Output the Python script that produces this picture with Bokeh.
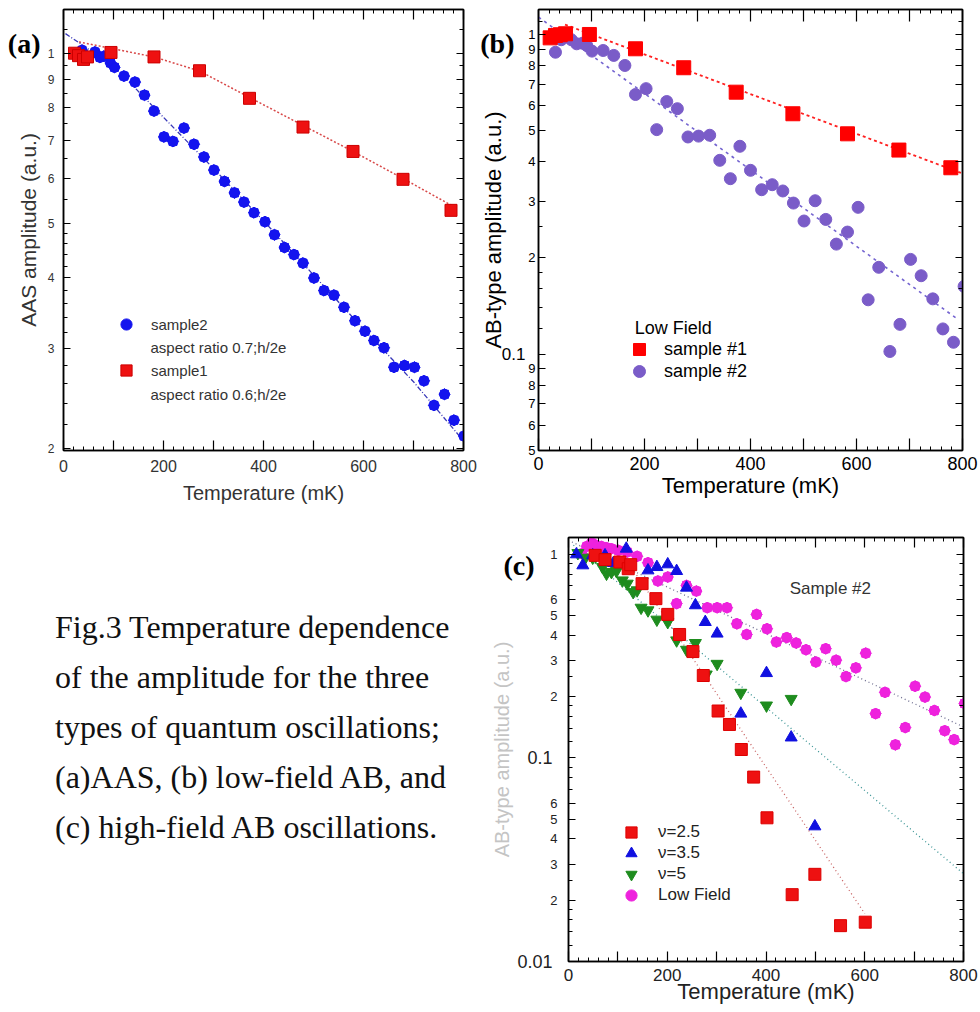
import numpy as np
from bokeh.plotting import figure
from bokeh.models import (Range1d, FixedTicker, CustomJSTickFormatter, LinearAxis, LogAxis,
                          Legend, LegendItem, Label, Div)
from bokeh.layouts import row, column
from bokeh.embed import file_html
from bokeh.resources import INLINE

# ---------------- data ----------------
# (a) AAS amplitude
a_s1_T = [22, 30, 40, 48, 95, 181, 272, 372, 479, 579, 679, 775]
a_s1_A = [1.0, 0.99, 0.975, 0.985, 1.003, 0.985, 0.931, 0.832, 0.740, 0.670, 0.598, 0.527]
a_s1_fit_T = [31, 95, 181, 272, 372, 479, 579, 679, 784]
a_s1_fit_A = [1.047, 1.02, 0.985, 0.93, 0.835, 0.745, 0.67, 0.6, 0.533]
a_s2_T = [37, 63, 73, 81, 94, 102, 121, 143, 162, 181, 201, 219, 241, 261, 281, 301, 322, 342, 361, 381,
          403, 422, 442, 461, 479, 501, 521, 541, 561, 583, 603, 621, 641, 661, 682, 702, 721, 741, 762, 781, 801]
a_s2_A = [1.012, 1.005, 0.983, 0.988, 0.961, 0.944, 0.911, 0.889, 0.843, 0.790, 0.711, 0.698, 0.737, 0.690,
          0.655, 0.621, 0.593, 0.566, 0.545, 0.522, 0.503, 0.477, 0.453, 0.440, 0.425, 0.400, 0.380, 0.373,
          0.355, 0.336, 0.322, 0.310, 0.301, 0.278, 0.280, 0.278, 0.263, 0.238, 0.249, 0.224, 0.210]
a_s2_fit_T = [4, 100, 200, 300, 400, 500, 600, 700, 800]
a_s2_fit_A = [1.083, 0.95, 0.77, 0.625, 0.505, 0.405, 0.325, 0.262, 0.206]
a_yticks = [1.0, 0.9, 0.8, 0.7, 0.6, 0.5, 0.4, 0.3, 0.2]
a_yminor = [1.1, 0.95, 0.85, 0.75, 0.65, 0.55, 0.48, 0.46, 0.44, 0.42, 0.38, 0.36, 0.34, 0.32,
            0.28, 0.26, 0.24, 0.22]

# (b) low-field AB amplitude
b_s1_T = [22, 32, 41, 51, 96, 183, 274, 373, 480, 583, 680, 778]
b_s1_A = [0.976, 0.993, 0.998, 1.005, 1.0, 0.902, 0.787, 0.660, 0.565, 0.489, 0.435, 0.383]
b_s1_fit_T = [50, 797]
b_s1_fit_A = [1.074, 0.369]
b_s2_T = [32, 43, 62, 72, 83, 91, 101, 122, 142, 163, 183, 203, 223, 242, 262, 282, 302, 323, 342, 362,
          380, 400, 421, 441, 461, 481, 501, 522, 542, 562, 583, 603, 622, 642, 663, 682, 702, 722, 744,
          763, 783, 803]
b_s2_A = [0.880, 0.963, 0.963, 0.935, 0.939, 0.924, 0.887, 0.891, 0.860, 0.800, 0.649, 0.677, 0.504,
          0.617, 0.586, 0.478, 0.481, 0.484, 0.404, 0.354, 0.447, 0.376, 0.327, 0.339, 0.324, 0.297,
          0.261, 0.302, 0.264, 0.221, 0.241, 0.288, 0.148, 0.187, 0.102, 0.124, 0.198, 0.176, 0.149,
          0.120, 0.109, 0.163]
b_s2_fit_T = [0, 793]
b_s2_fit_A = [1.133, 0.128]
b_yticks = [1.0, 0.9, 0.8, 0.7, 0.6, 0.5, 0.4, 0.3, 0.2, 0.1, 0.09, 0.08, 0.07, 0.06, 0.05]
b_yminor = [1.1, 0.25, 0.18, 0.16, 0.14, 0.12]

# (c) high-field AB amplitude, sample #2
c_n25_T = [54, 74, 104, 121, 126, 149, 177, 201, 225, 252, 273, 303, 326, 350, 375, 402, 453, 499, 551, 601]
c_n25_A = [0.989, 0.942, 0.917, 0.850, 0.890, 0.718, 0.606, 0.507, 0.404, 0.333, 0.254, 0.170, 0.146,
           0.110, 0.0805, 0.0508, 0.0213, 0.0268, 0.0150, 0.0156]
c_n35_T = [16, 29, 49, 74, 91, 117, 161, 179, 201, 219, 239, 257, 277, 301, 349, 401, 451, 499]
c_n35_A = [1.0, 0.883, 0.989, 0.989, 0.906, 1.066, 0.834, 0.866, 0.893, 0.828, 0.686, 0.562, 0.465,
           0.408, 0.165, 0.261, 0.126, 0.0461]
c_n5_T = [19, 34, 49, 55, 69, 77, 87, 97, 109, 119, 131, 139, 147, 161, 179, 201, 219, 239, 257, 279,
          301, 349, 401, 451]
c_n5_A = [1.015, 0.963, 0.963, 0.978, 0.866, 0.804, 0.819, 0.828, 0.745, 0.718, 0.653, 0.666, 0.547,
          0.531, 0.478, 0.465, 0.378, 0.340, 0.367, 0.257, 0.290, 0.209, 0.181, 0.195]
c_lf_T = [27, 37, 47, 57, 67, 77, 87, 101, 119, 139, 161, 181, 201, 219, 239, 259, 281, 301, 321, 341,
          361, 381, 402, 421, 442, 461, 481, 501, 521, 542, 562, 582, 602, 622, 641, 662, 682, 702, 722,
          741, 762, 781, 802]
c_lf_A = [1.008, 1.094, 1.137, 1.107, 1.094, 1.079, 1.066, 1.046, 1.026, 0.978, 0.910, 0.740, 0.774,
          0.573, 0.704, 0.660, 0.547, 0.547, 0.547, 0.456, 0.404, 0.507, 0.431, 0.371, 0.390, 0.367,
          0.340, 0.296, 0.344, 0.302, 0.251, 0.277, 0.327, 0.165, 0.210, 0.116, 0.141, 0.225, 0.199,
          0.171, 0.136, 0.123, 0.185]
c_n25_fit_T = [120, 600]
c_n25_fit_A = [0.92, 0.0172]
c_n5_fit_T = [10, 800]
c_n5_fit_A = [1.11, 0.027]
c_lf_fit_T = [7, 800]
c_lf_fit_A = [1.15, 0.142]
c_yticks = [1.0, 0.6, 0.5, 0.4, 0.3, 0.2, 0.1, 0.06, 0.05, 0.04, 0.03, 0.02, 0.01]
c_yminor = [0.9, 0.8, 0.7, 0.25, 0.18, 0.16, 0.14, 0.12, 0.09, 0.08, 0.07, 0.025, 0.018, 0.016,
            0.014, 0.012]

x_major = list(range(0, 801, 100))
x_minor = list(range(0, 801, 20))

caption_lines = ["Fig.3 Temperature dependence",
                 "of the amplitude for the three",
                 "types of quantum oscillations;",
                 "(a)AAS, (b) low-field AB, and",
                 "(c) high-field AB oscillations."]

SANS = "Liberation Sans"
SERIF = "Liberation Serif"


def mant_fmt():
    return CustomJSTickFormatter(code="""
const e = Math.floor(Math.log10(tick) + 1e-9);
const m = Math.round(tick / Math.pow(10, e));
if (e >= 0) return String(m);
if (m == 1) return '';
return String(m);
""")


def x_fmt():
    return CustomJSTickFormatter(code="const v = Math.round(tick); return (v % 200 == 0) ? String(v) : '';")


def blank_fmt():
    return CustomJSTickFormatter(code="return '';")


def make_panel(width, height, yr, borders, yt, ym, color, xfont, xlabel_font, xstand, xlabstand,
               yfont, ystand, xmaj=10, ymaj=7):
    left, right, top, bottom = borders
    p = figure(width=width, height=height, x_range=Range1d(0, 800), y_range=Range1d(*yr),
               y_axis_type="log", output_backend="svg", toolbar_location=None,
               min_border_left=left, min_border_right=right, min_border_top=top,
               min_border_bottom=bottom, margin=(0, 0, 0, 0))
    p.grid.visible = False
    p.outline_line_color = "black"
    p.outline_line_width = 1.5
    xt = FixedTicker(ticks=x_major, minor_ticks=x_minor)
    ytk = FixedTicker(ticks=yt, minor_ticks=ym)
    xa = p.xaxis[0]
    ya = p.yaxis[0]
    xa.ticker = xt
    xa.formatter = x_fmt()
    ya.ticker = ytk
    ya.formatter = mant_fmt()
    top_ax = LinearAxis(ticker=xt, formatter=blank_fmt())
    right_ax = LogAxis(ticker=ytk, formatter=blank_fmt())
    p.add_layout(top_ax, "above")
    p.add_layout(right_ax, "right")
    for ax, maj in ((xa, xmaj), (top_ax, xmaj), (ya, ymaj), (right_ax, ymaj)):
        ax.major_tick_in = maj
        ax.major_tick_out = 0
        ax.minor_tick_in = 4
        ax.minor_tick_out = 0
        ax.major_tick_line_color = "black"
        ax.minor_tick_line_color = "black"
        ax.major_tick_line_width = 1.2
        ax.minor_tick_line_width = 1
        ax.axis_line_color = "black"
        ax.axis_line_width = 1.5
        ax.major_label_text_font = SANS
        ax.major_label_text_color = color
    for ax in (top_ax, right_ax):
        ax.major_label_text_font_size = "0px"
        ax.major_label_standoff = 0
    xa.major_label_text_font_size = f"{xfont}px"
    xa.major_label_standoff = xstand
    xa.axis_label = "Temperature (mK)"
    xa.axis_label_text_font = SANS
    xa.axis_label_text_font_size = f"{xlabel_font}px"
    xa.axis_label_text_font_style = "normal"
    xa.axis_label_text_color = color
    xa.axis_label_standoff = xlabstand
    ya.major_label_text_font_size = f"{yfont}px"
    ya.major_label_standoff = ystand
    return p


def outer_axis(p, ticks, code, font, size, style, color, standoff, label=None, label_size=20,
               label_color="black", label_standoff=0):
    ax = LogAxis(ticker=FixedTicker(ticks=ticks, minor_ticks=[]),
                 formatter=CustomJSTickFormatter(code=code))
    ax.major_tick_in = 0
    ax.major_tick_out = 0
    ax.minor_tick_in = 0
    ax.minor_tick_out = 0
    ax.major_tick_line_color = None
    ax.minor_tick_line_color = None
    ax.axis_line_color = None
    ax.major_label_text_font = font
    ax.major_label_text_font_size = f"{size}px"
    ax.major_label_text_font_style = style
    ax.major_label_text_color = color
    ax.major_label_standoff = standoff
    if label is not None:
        ax.axis_label = label
        ax.axis_label_text_font = SANS
        ax.axis_label_text_font_size = f"{label_size}px"
        ax.axis_label_text_font_style = "normal"
        ax.axis_label_text_color = label_color
        ax.axis_label_standoff = label_standoff
    p.add_layout(ax, "left")
    return ax


def lab(p, x, y, text, size, color="black", font=SANS, style="normal", align="left",
        baseline="middle", angle=0.0):
    p.add_layout(Label(x=x, y=y, text=text, text_font=font, text_font_size=f"{size}px",
                       text_color=color, text_font_style=style, text_align=align,
                       text_baseline=baseline, angle=angle))


def one_legend(p, label, renderers, xo, yo, box, size, color, standoff):
    lg = Legend(items=[LegendItem(label=label, renderers=renderers)], location=(xo, yo),
                glyph_width=box, glyph_height=box, label_height=box, spacing=0,
                label_standoff=standoff, padding=0, margin=0, border_line_color=None,
                background_fill_alpha=0, label_text_font=SANS, label_text_font_size=f"{size}px",
                label_text_color=color)
    p.add_layout(lg)


def star(p, x, y, color, size):
    r1 = p.scatter(x, y, marker="circle", size=size, fill_color=color, line_color=color)
    p.scatter(x, y, marker="square", size=size * 0.8, fill_color=color, line_color=color)
    p.scatter(x, y, marker="square", size=size * 0.8, angle=np.pi / 4, fill_color=color,
              line_color=color)
    return r1


# ---------------- panel (a) ----------------
pa = make_panel(478, 518, (0.198, 1.195), (63, 15, 9, 66), a_yticks, a_yminor, "#333333",
                16, 20, 9, 7, 12, 9)
outer_axis(pa, [1.041], "return '(a)';", SERIF, 28, "bold", "black", 4,
           label="AAS amplitude (a.u.)", label_size=21, label_color="#333333", label_standoff=-35)
pa.line(a_s1_fit_T, a_s1_fit_A, line_color="#D84848", line_width=1.5, line_dash="2 2")
pa.line(a_s2_fit_T, a_s2_fit_A, line_color="#3838B8", line_width=1.3, line_dash="5 2 1 2")
ra_s2 = star(pa, a_s2_T, a_s2_A, "#1414EE", 10)
ra_s1 = pa.scatter(a_s1_T, a_s1_A, marker="square", size=12, fill_color="#EE1111", line_color="#CC0000")
leg_a = Legend(items=[LegendItem(label="sample2", renderers=[ra_s2]),
                      LegendItem(label="sample1", renderers=[ra_s1])],
               location=(49, 66), glyph_width=28, glyph_height=28, label_height=28, spacing=18,
               label_standoff=11, padding=0, margin=0, border_line_color=None,
               background_fill_alpha=0, label_text_font=SANS, label_text_font_size="15px",
               label_text_color="#333333")
pa.add_layout(leg_a)
lab(pa, 174, 0.3012, "aspect ratio 0.7;h/2e", 15, "#333333")
lab(pa, 174, 0.2492, "aspect ratio 0.6;h/2e", 15, "#333333")

# ---------------- panel (b) ----------------
pb = make_panel(500, 518, (0.05, 1.197), (55, 16, 8, 68), b_yticks, b_yminor, "black",
                18, 22, 6, 0, 13, 3, xmaj=12, ymaj=7)
outer_axis(pb, [0.1], "return '0.1';", SANS, 17, "normal", "black", 0)
outer_axis(pb, [0.937], "return '(b)';", SERIF, 28, "bold", "black", -16,
           label="AB-type amplitude (a.u.)", label_size=22, label_color="black", label_standoff=-29)
pb.line(b_s1_fit_T, b_s1_fit_A, line_color="#FF2020", line_width=1.8, line_dash="3 3")
pb.line(b_s2_fit_T, b_s2_fit_A, line_color="#7464D0", line_width=1.6, line_dash="3 4")
rb_s2 = pb.scatter(b_s2_T, b_s2_A, marker="circle", size=12, fill_color="#7A5CC8", line_color="#7A5CC8")
rb_s1 = pb.scatter(b_s1_T, b_s1_A, marker="square", size=14, fill_color="#FF0000", line_color="#FF0000")
lab(pb, 181.7, 0.1206, "Low Field", 18, "black")
one_legend(pb, "sample #1", [rb_s1], 86, 86, 30, 18, "black", 10)
one_legend(pb, "sample #2", [rb_s2], 86, 64, 30, 18, "black", 10)

# ---------------- panel (c) ----------------
pc = make_panel(490, 492, (0.01, 1.21), (75, 15, 19, 49), c_yticks, c_yminor, "#222222",
                17, 22, 7, -5, 13, 11)
outer_axis(pc, [0.1, 0.01], "return tick > 0.05 ? '0.1' : '0.01';", SANS, 18, "normal", "#222222", -5)
outer_axis(pc, [0.883], "return '(c)';", SERIF, 28, "bold", "black", -20,
           label="AB-type amplitude (a.u.)", label_size=20, label_color="#C4C4C4", label_standoff=-13)
pc.line(c_n25_fit_T, c_n25_fit_A, line_color="#C86464", line_width=1.3, line_dash="1 3")
pc.line(c_n5_fit_T, c_n5_fit_A, line_color="#3A9494", line_width=1.3, line_dash="1 3")
pc.line(c_lf_fit_T, c_lf_fit_A, line_color="#6E6E90", line_width=1.3, line_dash="1 3")
rc_lf = star(pc, c_lf_T, c_lf_A, "#EE22DD", 10)
rc_n5 = pc.scatter(c_n5_T, c_n5_A, marker="inverted_triangle", size=12, fill_color="#1E8C1E",
                   line_color="#1E8C1E")
rc_n35 = pc.scatter(c_n35_T, c_n35_A, marker="triangle", size=12, fill_color="#1010E0", line_color="#1010E0")
rc_n25 = pc.scatter(c_n25_T, c_n25_A, marker="square", size=12, fill_color="#EE1111", line_color="#DD0000")
one_legend(pc, "ν=2.5", [rc_n25], 49, 115, 28, 17, "#222222", 13)
one_legend(pc, "ν=3.5", [rc_n35], 49, 94, 28, 17, "#222222", 13)
one_legend(pc, "ν=5", [rc_n5], 49, 73, 28, 17, "#222222", 13)
one_legend(pc, "Low Field", [rc_lf], 49, 52, 28, 17, "#222222", 13)
lab(pc, 448, 0.681, "Sample #2", 17, "#333333")

# ---------------- caption ----------------
cap_html = ("<div style=\"font-family:'Liberation Serif'; font-size:32px; line-height:50px; "
            "color:#111; padding:84px 0 0 55px; white-space:nowrap;\">"
            + "<br>".join(caption_lines) + "</div>")
cap = Div(text=cap_html, width=488, height=492, margin=(0, 0, 0, 0))

layout = column(row(pa, pb), row(cap, pc))
open("out.html", "w").write(file_html(layout, INLINE))
